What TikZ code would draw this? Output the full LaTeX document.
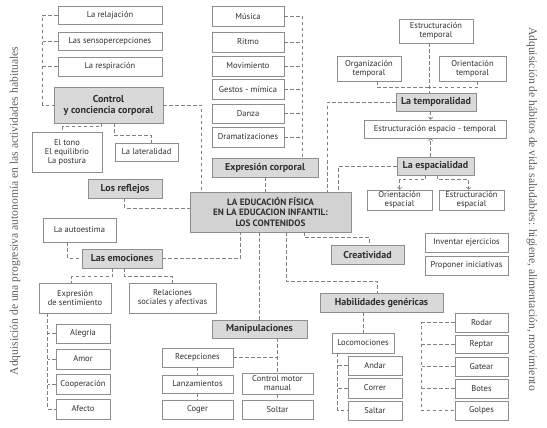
\documentclass[tikz,border=0pt]{standalone}
\usepackage{fontspec}
\setmainfont{PT Sans}
\newfontfamily\sidefont{Liberation Serif}
\usetikzlibrary{calc,arrows.meta}
\definecolor{txt}{HTML}{303030}
\definecolor{bord}{HTML}{8E8E8E}
\definecolor{gfill}{HTML}{D9D9D9}
\definecolor{mfill}{HTML}{D2D2D2}
\definecolor{lncol}{HTML}{808080}
\definecolor{sidecol}{HTML}{606060}
\newcommand\bxn[7]{\node[#6, minimum width={(#4-#2)*1pt}, minimum height={(#5-#3)*1pt}] (#1) at ({(#2+#4)/2},{(#3+#5)/2}) {#7};}
\tikzset{
  plainbox/.style={draw=bord, line width=0.6pt, fill=white, text=txt, inner sep=1pt, align=center, font=\fontsize{8.5}{9}\selectfont},
  graybox/.style={plainbox, fill=gfill, font=\bfseries\fontsize{10}{11}\selectfont},
  mainbox/.style={plainbox, fill=mfill, font=\bfseries\fontsize{9.2}{10.4}\selectfont},
  dl/.style={draw=lncol, line width=0.6pt, dash pattern=on 3.5pt off 2.5pt},
  arr/.style={-{Straight Barb[length=2.2pt,width=4.5pt]}},
  sidetext/.style={text=sidecol, inner sep=0pt, font=\sidefont\fontsize{11.6}{12}\selectfont}
}
\begin{document}
\begin{tikzpicture}[x=1pt,y=-1pt]
\useasboundingbox (0,0) rectangle (547,428);
\fill[white] (0,0) rectangle (547,428);
% side texts
\node[sidetext, rotate=90] (lt) at (15,211) {Adquisición de una progresiva autonomía en las actividades habituales};
\node[sidetext, rotate=-90] (rt) at (532,209) {Adquisición de hábitos de vida saludables: higiene, alimentación, movimiento};
% left group
\bxn{relaj}{58}{6}{162}{24}{plainbox}{La relajación}
\bxn{senso}{58}{32}{162}{50}{plainbox}{Las sensopercepciones}
\bxn{respi}{58}{57}{162}{76}{plainbox}{La respiración}
\bxn{control}{54}{87}{163}{123}{graybox}{Control\\y conciencia corporal}
\bxn{tono}{32}{132}{102}{172}{plainbox}{El tono\\El equilibrio\\La postura}
\bxn{later}{115}{143}{178}{161}{plainbox}{La lateralidad}
\bxn{reflejos}{88}{179}{162}{198}{graybox}{Los reflejos}
% middle column
\bxn{musica}{212}{6}{284}{26}{plainbox}{Música}
\bxn{ritmo}{212}{32}{284}{52}{plainbox}{Ritmo}
\bxn{movim}{212}{56}{284}{76}{plainbox}{Movimiento}
\bxn{gestos}{212}{79}{284}{99}{plainbox}{Gestos - mímica}
\bxn{danza}{212}{104}{284}{123}{plainbox}{Danza}
\bxn{drama}{212}{127}{284}{147}{plainbox}{Dramatizaciones}
\bxn{expr}{212}{158}{318}{177}{graybox}{Expresión corporal}
\bxn{main}{190}{192}{351}{232}{mainbox}{LA EDUCACIÓN FÍSICA\\EN LA EDUCACION INFANTIL:\\LOS CONTENIDOS}
% right upper
\bxn{esttemp}{399}{19}{473}{43}{plainbox}{Estructuración\\temporal}
\bxn{orgtemp}{337}{56}{401}{81}{plainbox}{Organización\\temporal}
\bxn{oritemp}{439}{56}{506}{81}{plainbox}{Orientación\\temporal}
\bxn{tempo}{396}{93}{476}{111}{graybox}{La temporalidad}
\bxn{eet}{364}{120}{506}{138}{plainbox}{Estructuración espacio - temporal}
\bxn{espa}{397}{157}{474}{175}{graybox}{La espacialidad}
\bxn{oriesp}{367}{190}{432}{210}{plainbox}{Orientación\\espacial}
\bxn{estesp}{439}{190}{504}{210}{plainbox}{Estructuración\\espacial}
\bxn{inventar}{425}{233}{508}{252}{plainbox}{Inventar ejercicios}
\bxn{proponer}{425}{256}{508}{275}{plainbox}{Proponer iniciativas}
\bxn{creat}{331}{245}{404}{264}{graybox}{Creatividad}
\bxn{habil}{320}{293}{443}{312}{graybox}{Habilidades genéricas}
\bxn{locom}{332}{333}{394}{353}{plainbox}{Locomociones}
\bxn{andar}{348}{356}{402}{375}{plainbox}{Andar}
\bxn{correr}{348}{378}{402}{398}{plainbox}{Correr}
\bxn{saltar}{348}{401}{402}{420}{plainbox}{Saltar}
\bxn{rodar}{455}{313}{508}{332}{plainbox}{Rodar}
\bxn{reptar}{455}{335}{508}{353}{plainbox}{Reptar}
\bxn{gatear}{455}{357}{508}{376}{plainbox}{Gatear}
\bxn{botes}{455}{379}{508}{398}{plainbox}{Botes}
\bxn{golpes}{455}{401}{508}{420}{plainbox}{Golpes}
% left lower
\bxn{autoest}{43}{218}{116}{242}{plainbox}{La autoestima}
\bxn{emoc}{82}{249}{162}{268}{graybox}{Las emociones}
\bxn{exprsent}{39}{283}{111}{313}{plainbox}{Expresión\\de sentimiento}
\bxn{relac}{129}{283}{216}{313}{plainbox}{Relaciones\\sociales y afectivas}
\bxn{alegria}{56}{324}{110}{343}{plainbox}{Alegría}
\bxn{amor}{56}{349}{110}{369}{plainbox}{Amor}
\bxn{coop}{56}{374}{110}{394}{plainbox}{Cooperación}
\bxn{afecto}{56}{399}{110}{419}{plainbox}{Afecto}
\bxn{manip}{212}{320}{307}{338}{graybox}{Manipulaciones}
\bxn{recep}{162}{348}{233}{367}{plainbox}{Recepciones}
\bxn{lanz}{162}{375}{233}{393}{plainbox}{Lanzamientos}
\bxn{coger}{162}{400}{233}{419}{plainbox}{Coger}
\bxn{cmm}{242}{373}{313}{394}{plainbox}{Control motor\\manual}
\bxn{soltar}{242}{400}{313}{419}{plainbox}{Soltar}
% ---- connectors ----
% left column
\draw[dl] (relaj.west) -| ($(control.west)+(-11,0)$) -- (control.west);
\draw[dl] (senso.west) -- ++(-15,0);
\draw[dl] (respi.west) -- ++(-15,0);
\draw[dl] (control.east) -| ($(main.north west)+(12,0)$);
\draw[dl] ($(control.south west)+(48,0)$) |- ($(tono.north west)+(31,-5)$) -- ($(tono.north west)+(31,0)$);
\draw[dl] ($(control.south west)+(61,0)$) |- ($(later.north west)+(37,-7)$) -- ($(later.north west)+(37,0)$);
\draw[dl] ($(reflejos.south west)+(37,0)$) |- ($(main.west)+(0,-4)$);
% middle column
\draw[dl] (musica.east) -| ($(expr.north west)+(91,0)$);
\foreach \n in {ritmo,movim,gestos,danza,drama} \draw[dl] (\n.east) -- ++(19,0);
\draw[dl] (expr.south) -- (expr.south |- main.north);
% emotions
\draw[dl] ($(autoest.south west)+(25,0)$) |- (emoc.west);
\draw[dl] (emoc.east) -| ($(main.south west)+(51,0)$);
\draw[dl] ($(emoc.south west)+(31,0)$) |- ($(exprsent.north west)+(33,-6)$) -- ($(exprsent.north west)+(33,0)$);
\draw[dl] ($(emoc.south west)+(43,0)$) |- ($(relac.north west)+(44,-6)$) -- ($(relac.north west)+(44,0)$);
\draw[dl] ($(exprsent.south west)+(9,0)$) |- (afecto.west);
\foreach \n in {alegria,amor,coop} \draw[dl] (\n.west) -- ++(-8,0);
% manipulaciones
\draw[dl] ($(main.south west)+(70,0)$) coordinate (mm) -- (mm |- manip.north);
\draw[dl] (manip.south -| cmm.north) -- (cmm.north);
\draw[dl] (recep.east) -- (recep.east -| cmm.north);
\draw[dl] (recep.south) -- (lanz.north);
\draw[dl] (lanz.south) -- (coger.north);
\draw[dl] (cmm.south) -- (soltar.north);
% temporalidad
\draw[dl] ($(esttemp.south west)+(31,0)$) coordinate (vt) -- (vt |- tempo.north);
\draw[dl] ($(orgtemp.south west)+(41,0)$) |- ($(tempo.north west)+(34,-5)$);
\draw[dl] ($(oritemp.south west)+(39,0)$) |- ($(tempo.north west)+(34,-5)$);
\draw[dl] (tempo.west) -| ($(main.north west)+(138,0)$);
\draw[dl,arr] ($(tempo.south west)+(35,0)$) coordinate (ta) -- (ta |- eet.north);
\draw[dl,arr] ($(espa.north west)+(34,0)$) coordinate (ea) -- (ea |- eet.south);
\draw[dl] (espa.west) -| ($(main.north west)+(149,0)$);
\draw[dl,arr] ($(espa.south west)+(29,0)$) |- ($(oriesp.north west)+(33,-10)$) -- ($(oriesp.north west)+(33,0)$);
\draw[dl,arr] ($(espa.south west)+(41,0)$) |- ($(estesp.north west)+(30,-10)$) -- ($(estesp.north west)+(30,0)$);
% creatividad, habilidades
\draw[dl] ($(main.south west)+(115,0)$) |- ($(creat.north west)+(39,-7)$) -- ($(creat.north west)+(39,0)$);
\draw[dl] ($(main.south west)+(97,0)$) |- ($(habil.north west)+(58,-11)$) -- ($(habil.north west)+(58,0)$);
\draw[dl] (locom.north |- habil.south) -- (locom.north);
\draw[dl] ($(locom.south west)+(6,0)$) |- (saltar.west);
\foreach \n in {andar,correr} \draw[dl] (\n.west) -- ++(-10,0);
\draw[dl] (rodar.west) -| ($(golpes.west)+(-33,0)$) -- (golpes.west);
\foreach \n in {reptar,gatear,botes} \draw[dl] (\n.west) -- ++(-33,0);
\end{tikzpicture}
\end{document}
